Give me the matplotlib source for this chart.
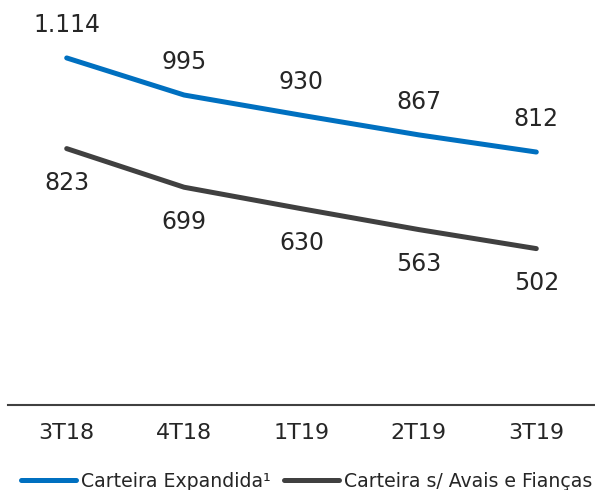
import matplotlib.pyplot as plt

quarters = ['3T18', '4T18', '1T19', '2T19', '3T19']
expandida = [1114, 995, 930, 867, 812]
sem_avais = [823, 699, 630, 563, 502]
expandida_labels = ['1.114', '995', '930', '867', '812']
sem_avais_labels = ['823', '699', '630', '563', '502']

blue = '#0070C0'
grey = '#404040'

plt.rcParams['font.family'] = 'DejaVu Sans'

fig = plt.figure(figsize=(5.95, 4.9), dpi=100)
ax = fig.add_axes([8 / 595, 1 - 405 / 490, 1 - 8 / 595, 405 / 490])

x = range(len(quarters))
ax.plot(x, expandida, color=blue, lw=3.6, solid_capstyle='round',
        solid_joinstyle='round', label='Carteira Expandida¹')
ax.plot(x, sem_avais, color=grey, lw=3.6, solid_capstyle='round',
        solid_joinstyle='round', label='Carteira s/ Avais e Fianças')

for i, (v, s) in enumerate(zip(expandida, expandida_labels)):
    ax.annotate(s, (i, v), xytext=(0, 24), textcoords='offset points',
                ha='center', va='center', fontsize=17, color='#262626')
for i, (v, s) in enumerate(zip(sem_avais, sem_avais_labels)):
    ax.annotate(s, (i, v), xytext=(0, -25), textcoords='offset points',
                ha='center', va='center', fontsize=17, color='#262626')

ax.set_xlim(-0.5, len(quarters) - 0.5)
ax.set_ylim(0, 1300)
ax.set_xticks(list(x))
ax.set_xticklabels(quarters, fontsize=16, color='#262626')
ax.tick_params(axis='x', length=0, pad=13)
ax.set_yticks([])
for side in ['left', 'right', 'top']:
    ax.spines[side].set_visible(False)
ax.spines['bottom'].set_color(grey)
ax.spines['bottom'].set_linewidth(1.5)

fig.legend(loc='center', bbox_to_anchor=(0.515, 1 - 481 / 490), ncol=2,
           frameon=False, fontsize=13.6, handlelength=2.9, handletextpad=0.27,
           columnspacing=0.7, labelcolor='#262626', borderpad=0)

fig.savefig('out.png', dpi=100)
